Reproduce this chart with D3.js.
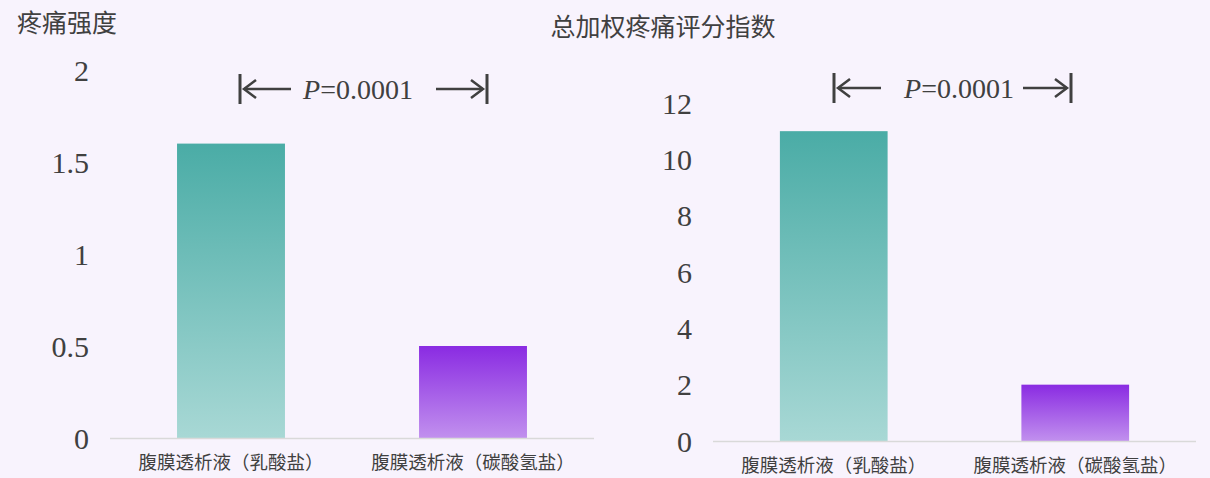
<!doctype html>
<html>
  <head>
    <meta charset="utf-8">
    <script src="https://cdnjs.cloudflare.com/ajax/libs/d3/7.8.5/d3.min.js"></script>
    <style>
      body { margin: 0; background: #f8f3fd; }
      svg { display: block; }
      .tick-label { font-family: "Liberation Serif", "DejaVu Serif", serif; font-size: 30px; fill: #404040; }
      .cat-label { font-family: "Noto Sans CJK SC", sans-serif; font-size: 18.5px; fill: #404040; }
      .title { font-family: "Noto Sans CJK SC", sans-serif; font-size: 25px; fill: #404040; }
      .pval { font-family: "Liberation Serif", serif; font-size: 28px; fill: #404040; }
    </style>
  </head>
  <body>
    <svg width="1210" height="478"></svg>
    <script>
      var categories = ["腹膜透析液（乳酸盐）", "腹膜透析液（碳酸氢盐）"];
      var painIntensity = [1.6, 0.5];
      var painScore = [11, 2];
      var leftTicks = [0, 0.5, 1, 1.5, 2];
      var rightTicks = [0, 2, 4, 6, 8, 10, 12];
      var pText = "0.0001";

      var svg = d3.select("svg");

      var defs = svg.append("defs");
      function grad(id, top, bottom) {
        var g = defs.append("linearGradient").attr("id", id)
          .attr("x1", 0).attr("y1", 0).attr("x2", 0).attr("y2", 1);
        g.append("stop").attr("offset", "0%").attr("stop-color", top);
        g.append("stop").attr("offset", "100%").attr("stop-color", bottom);
      }
      grad("gTeal", "#4aaca6", "#a8d8d5");
      grad("gPurple", "#8a2be2", "#c190ee");
      var fills = ["url(#gTeal)", "url(#gPurple)"];

      function drawChart(opt) {
        var g = svg.append("g");
        var x = d3.scaleBand().domain(categories)
          .range([opt.x0, opt.x1]).paddingInner(0.554).paddingOuter(0.277);
        var y = d3.scaleLinear().domain([0, opt.max]).range([opt.y0, opt.y1]);

        g.selectAll("rect").data(opt.values).enter().append("rect")
          .attr("x", (d, i) => x(categories[i]))
          .attr("y", d => y(d))
          .attr("width", x.bandwidth())
          .attr("height", d => y(0) - y(d))
          .attr("fill", (d, i) => fills[i]);

        g.append("line")
          .attr("x1", opt.x0).attr("x2", opt.x1)
          .attr("y1", y(0) + 0.5).attr("y2", y(0) + 0.5)
          .attr("stroke", "#d9d9d9").attr("stroke-width", 1.5);

        g.selectAll(".tick-label").data(opt.ticks).enter().append("text")
          .attr("class", "tick-label")
          .attr("x", opt.tickX)
          .attr("y", d => y(d))
          .attr("dy", "0.35em")
          .attr("text-anchor", "end")
          .text(d => d);

        g.selectAll(".cat-label").data(categories).enter().append("text")
          .attr("class", "cat-label")
          .attr("x", d => x(d) + x.bandwidth() / 2)
          .attr("y", y(0) + opt.catDy)
          .attr("dy", "0.35em")
          .attr("text-anchor", "middle")
          .text(d => d);

        // p-value bracket
        var a = opt.bracket, c = "#404040";
        var pg = g.append("g").attr("stroke", c).attr("fill", "none").attr("stroke-linecap", "butt");
        pg.append("line").attr("x1", a.l).attr("x2", a.l).attr("y1", a.y - 15).attr("y2", a.y + 15).attr("stroke-width", 3);
        pg.append("line").attr("x1", a.r).attr("x2", a.r).attr("y1", a.y - 15).attr("y2", a.y + 15).attr("stroke-width", 3);
        pg.append("line").attr("x1", a.l + 4).attr("x2", a.la).attr("y1", a.y).attr("y2", a.y).attr("stroke-width", 2.5);
        pg.append("path").attr("d", d3.line()([[a.l + 16, a.y - 9], [a.l + 4, a.y], [a.l + 16, a.y + 9]])).attr("stroke-width", 2.5);
        pg.append("line").attr("x1", a.ra).attr("x2", a.r - 4).attr("y1", a.y).attr("y2", a.y).attr("stroke-width", 2.5);
        pg.append("path").attr("d", d3.line()([[a.r - 16, a.y - 9], [a.r - 4, a.y], [a.r - 16, a.y + 9]])).attr("stroke-width", 2.5);
        var t = g.append("text").attr("class", "pval")
          .attr("x", a.tx).attr("y", a.y).attr("dy", "0.35em").attr("text-anchor", "middle");
        t.append("tspan").attr("font-style", "italic").text("P");
        t.append("tspan").text("=" + pText);

        g.append("text").attr("class", "title")
          .attr("x", opt.titleX).attr("y", opt.titleY)
          .attr("dy", "0.35em")
          .attr("text-anchor", opt.titleAnchor)
          .text(opt.title);
      }

      drawChart({
        values: painIntensity, ticks: leftTicks, max: 2,
        x0: 110, x1: 594, y0: 438, y1: 70, tickX: 89, catDy: 25,
        bracket: { l: 240, r: 487, la: 291, ra: 436, tx: 358, y: 89 },
        title: "疼痛强度", titleX: 17, titleY: 23, titleAnchor: "start"
      });

      drawChart({
        values: painScore, ticks: rightTicks, max: 12,
        x0: 713, x1: 1196, y0: 441, y1: 103, tickX: 692, catDy: 25,
        bracket: { l: 834, r: 1071, la: 881, ra: 1023, tx: 959, y: 88 },
        title: "总加权疼痛评分指数", titleX: 663, titleY: 27, titleAnchor: "middle"
      });
    </script>
  </body>
</html>
